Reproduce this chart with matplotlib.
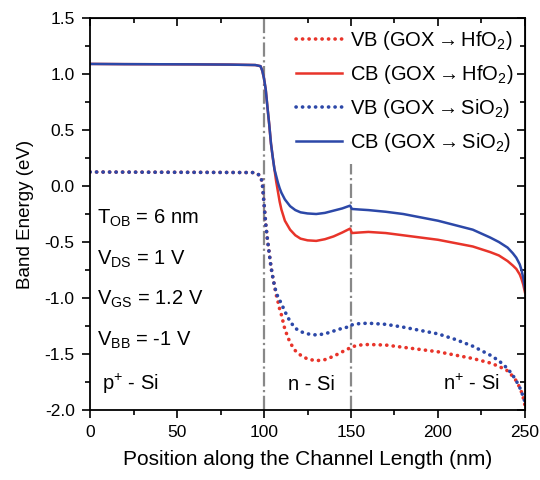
import matplotlib
matplotlib.use("Agg")
import matplotlib.pyplot as plt
from matplotlib.ticker import MultipleLocator, FormatStrFormatter

plt.rcParams['font.family'] = ['Liberation Sans', 'DejaVu Sans']
plt.rcParams['mathtext.fontset'] = 'custom'
plt.rcParams['mathtext.rm'] = 'Liberation Sans'
plt.rcParams['mathtext.it'] = 'Liberation Sans'
plt.rcParams['axes.unicode_minus'] = False

# position along channel (nm)
pos = [0, 20, 40, 60, 80, 95, 98, 99, 100, 101, 102, 103, 104, 105, 106, 107,
       108, 109, 110, 112, 115, 118, 121, 125, 130, 135, 140, 145, 149.5, 150.5,
       155, 160, 170, 180, 190, 200, 210, 220, 230, 235, 240, 243, 245, 247,
       248, 249, 250]

cb_hfo2 = [1.09, 1.088, 1.087, 1.086, 1.084, 1.08, 1.07, 1.03, 0.96, 0.86, 0.70,
           0.55, 0.38, 0.26, 0.15, 0.04, -0.05, -0.14, -0.21, -0.31, -0.39, -0.44,
           -0.47, -0.485, -0.49, -0.475, -0.45, -0.415, -0.38, -0.42, -0.415,
           -0.41, -0.42, -0.44, -0.46, -0.48, -0.51, -0.54, -0.59, -0.62, -0.67,
           -0.71, -0.74, -0.79, -0.83, -0.88, -0.95]

cb_sio2 = [1.09, 1.088, 1.087, 1.086, 1.084, 1.08, 1.07, 1.03, 0.96, 0.86, 0.70,
           0.55, 0.38, 0.26, 0.15, 0.09, 0.03, -0.02, -0.06, -0.12, -0.18, -0.215,
           -0.235, -0.245, -0.25, -0.24, -0.22, -0.20, -0.175, -0.205, -0.21,
           -0.215, -0.23, -0.25, -0.28, -0.31, -0.35, -0.39, -0.46, -0.50, -0.55,
           -0.60, -0.64, -0.70, -0.75, -0.82, -0.92]

vb_hfo2 = [0.125, 0.124, 0.123, 0.122, 0.121, 0.12, 0.09, 0.03, -0.155, -0.34,
           -0.48, -0.60, -0.72, -0.81, -0.89, -0.97, -1.03, -1.10, -1.15, -1.28,
           -1.40, -1.47, -1.51, -1.545, -1.56, -1.55, -1.52, -1.48, -1.445,
           -1.435, -1.42, -1.415, -1.42, -1.44, -1.46, -1.48, -1.51, -1.54,
           -1.58, -1.61, -1.65, -1.70, -1.74, -1.80, -1.84, -1.89, -1.96]

vb_sio2 = [0.125, 0.124, 0.123, 0.122, 0.121, 0.12, 0.09, 0.03, -0.155, -0.34,
           -0.48, -0.60, -0.72, -0.81, -0.89, -0.95, -0.99, -1.02, -1.05, -1.12,
           -1.21, -1.27, -1.30, -1.32, -1.33, -1.32, -1.295, -1.27, -1.255,
           -1.24, -1.228, -1.225, -1.235, -1.26, -1.29, -1.32, -1.37, -1.43,
           -1.51, -1.56, -1.63, -1.69, -1.74, -1.80, -1.84, -1.88, -1.93]

labels = [r'VB (GOX$\rightarrow$HfO$_2$)', r'CB (GOX$\rightarrow$HfO$_2$)',
          r'VB (GOX$\rightarrow$SiO$_2$)', r'CB (GOX$\rightarrow$SiO$_2$)']
params = [r'T$_{\rm OB}$ = 6 nm', r'V$_{\rm DS}$ = 1 V',
          r'V$_{\rm GS}$ = 1.2 V', r'V$_{\rm BB}$ = -1 V']
regions = [(7, r'p$^{+}$ - Si'), (114, 'n - Si'), (203, r'n$^{+}$ - Si')]

red = '#e8342a'
blue = '#2c48a8'
dots = (0, (0.05, 1.75))

fig = plt.figure(figsize=(5.4, 4.8), dpi=100)
ax = fig.add_axes([0.1667, 0.1458, 0.8055, 0.8167])

ax.axvline(100, color='#888888', ls='-.', lw=1.6, zorder=1)
ax.plot([150, 150], [-2.0, 0.2], color='#888888', ls='-.', lw=1.6, zorder=1)

ax.plot(pos, vb_hfo2, color=red, ls=dots, lw=2.6, dash_capstyle='round', label=labels[0])
ax.plot(pos, cb_hfo2, color=red, ls='-', lw=1.8, label=labels[1])
ax.plot(pos, vb_sio2, color=blue, ls=dots, lw=2.6, dash_capstyle='round', label=labels[2])
ax.plot(pos, cb_sio2, color=blue, ls='-', lw=1.8, label=labels[3])

ax.set_xlim(0, 250)
ax.set_ylim(-2.0, 1.5)
ax.xaxis.set_major_locator(MultipleLocator(50))
ax.xaxis.set_minor_locator(MultipleLocator(25))
ax.yaxis.set_major_locator(MultipleLocator(0.5))
ax.yaxis.set_minor_locator(MultipleLocator(0.25))
ax.yaxis.set_major_formatter(FormatStrFormatter('%.1f'))
ax.tick_params(which='both', direction='out', labelsize=12.5, width=1.2, pad=5)
ax.tick_params(which='major', length=6)
ax.tick_params(which='minor', length=3.5)
for s in ax.spines.values():
    s.set_linewidth(1.3)

# inward ticks on top and right
top = ax.secondary_xaxis('top')
top.xaxis.set_major_locator(MultipleLocator(50))
top.xaxis.set_minor_locator(MultipleLocator(25))
top.tick_params(which='both', direction='in', labeltop=False, width=1.2)
top.tick_params(which='major', length=6)
top.tick_params(which='minor', length=3.5)
right = ax.secondary_yaxis('right')
right.yaxis.set_major_locator(MultipleLocator(0.5))
right.yaxis.set_minor_locator(MultipleLocator(0.25))
right.tick_params(which='both', direction='in', labelright=False, width=1.2)
right.tick_params(which='major', length=6)
right.tick_params(which='minor', length=3.5)

ax.set_xlabel('Position along the Channel Length (nm)', fontsize=15, labelpad=7)
ax.set_ylabel('Band Energy (eV)', fontsize=13.5, labelpad=8)

for i, t in enumerate(params):
    ax.text(4, -0.29 - i * 0.362, t, fontsize=14.5, va='center', ha='left')
for x, t in regions:
    ax.text(x, -1.77, t, fontsize=14.5, va='center', ha='left')

ax.legend(loc='upper right', frameon=False, fontsize=14.5, handlelength=2.3,
          handletextpad=0.4, labelspacing=0.55, borderaxespad=0.15)

fig.savefig('out.png', dpi=100)
